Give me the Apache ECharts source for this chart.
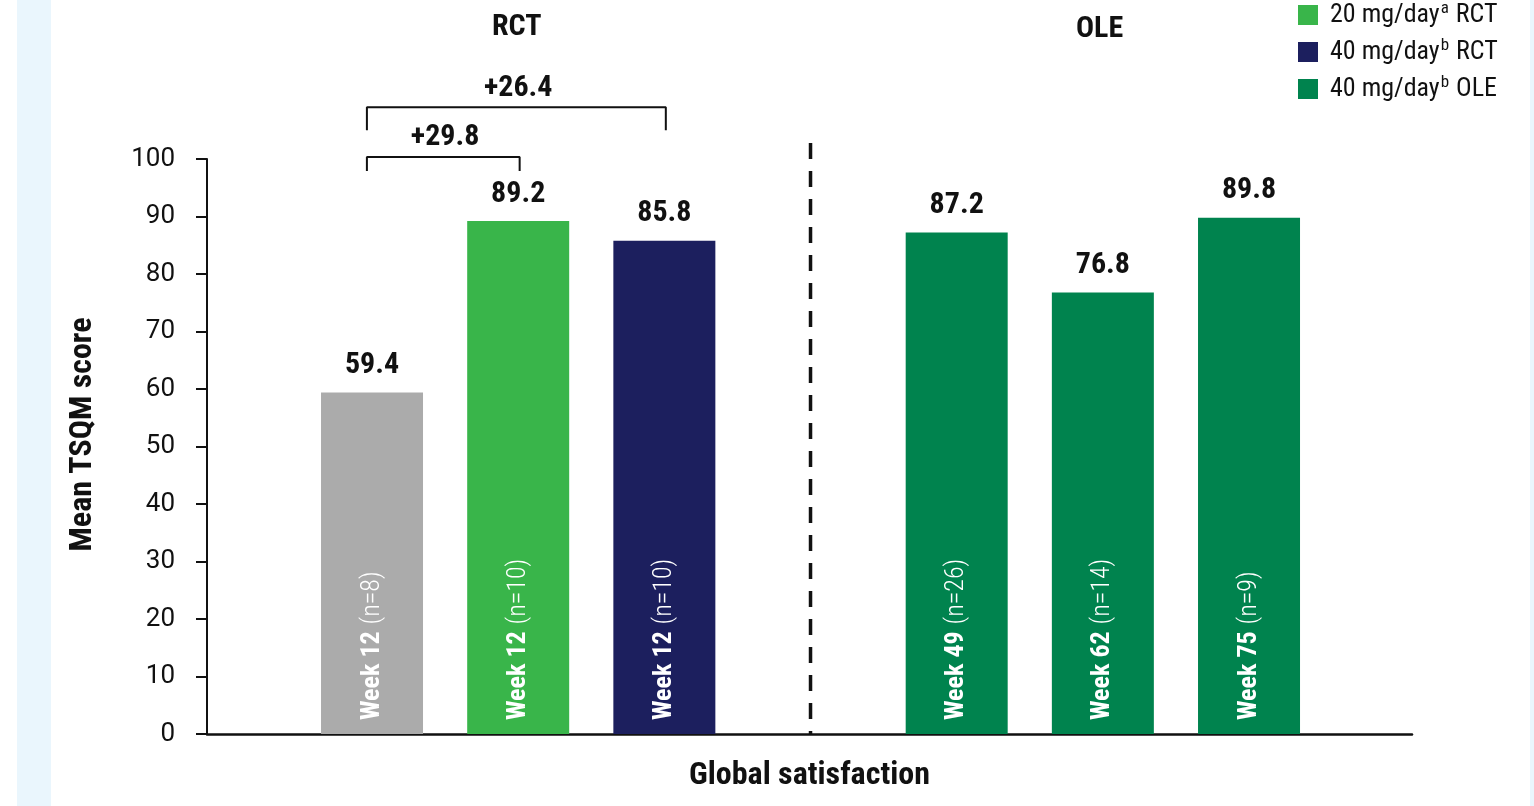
<!DOCTYPE html>
<html>
<head>
<meta charset="utf-8">
<title>Global satisfaction – Mean TSQM score</title>
<script src="https://cdn.jsdelivr.net/npm/echarts@6/dist/echarts.min.js"></script>
<style>
  html, body { margin: 0; padding: 0; background: #ffffff; }
  body { width: 1534px; height: 806px; position: relative; overflow: hidden; }
  .strip { position: absolute; top: 0; height: 806px; background: #eaf6fd; }
  #chart { position: absolute; left: 0; top: 0; width: 1534px; height: 806px; }
</style>
</head>
<body>
<div class="strip" style="left:17px;width:34px"></div>
<div class="strip" style="left:1530px;width:4px"></div>
<div id="chart"></div>
<script>
// Bar slots along the x axis (slot 3 is the RCT / OLE divider)
const slots = [0, 1, 2, 4, 5, 6];
const dividerSlot = 3;
const weeks = ['Week 12', 'Week 12', 'Week 12', 'Week 49', 'Week 62', 'Week 75'];
const nCounts = [8, 10, 10, 26, 14, 9];
const placeboValues = [59.4];
const rct20Values = [89.2];
const rct40Values = [85.8];
const ole40Values = [87.2, 76.8, 89.8];
const yTicks = [0, 10, 20, 30, 40, 50, 60, 70, 80, 90, 100];
const legendNames = ['20 mg/day RCT', '40 mg/day RCT', '40 mg/day OLE'];
const legendSup = { '20 mg/day RCT': 'a', '40 mg/day RCT': 'b', '40 mg/day OLE': 'b' };

const COND = "'Roboto Condensed', 'Liberation Sans Narrow', 'DejaVu Sans Condensed', Roboto, sans-serif";
const REG = "Roboto, 'Noto Sans', sans-serif";

const colors = {
  placebo: '#ababab',
  rct20: '#39b54a',
  rct40: '#1c1f5e',
  ole40: '#00834e'
};

function barData(values, slotOffset) {
  return values.map((v, i) => [slots[slotOffset + i], v, slotOffset + i]);
}

const valueLabel = {
  show: true,
  position: 'top',
  distance: 12,
  formatter: p => p.value[1].toFixed(1),
  fontFamily: COND,
  fontWeight: 'bold',
  fontSize: 30,
  color: '#111111'
};

const insideLabel = {
  show: true,
  position: 'insideBottom',
  distance: 14,
  rotate: 90,
  align: 'left',
  verticalAlign: 'middle',
  formatter: p => '{w|' + weeks[p.value[2]] + '} {n|(n=' + nCounts[p.value[2]] + ')}',
  rich: {
    w: { fontFamily: COND, fontWeight: 'bold', fontSize: 26, color: '#ffffff' },
    n: { fontFamily: COND, fontWeight: 300, fontSize: 26, color: '#ffffff' }
  }
};

function barSeries(name, values, slotOffset, color) {
  return {
    name: name,
    type: 'bar',
    barWidth: 102,
    barGap: '-100%',
    data: barData(values, slotOffset),
    itemStyle: { color: color },
    label: valueLabel,
    emphasis: { disabled: true },
    z: 2
  };
}

// Comparison brackets above the RCT bars
const base = placeboValues[0];
const bracketSpecs = [
  { to: 1, value: rct20Values[0], top: 100.35, foot: 97.9 },
  { to: 2, value: rct40Values[0], top: 109.0, foot: 105.0 }
];
const bracketSeries = [];
bracketSpecs.forEach(b => {
  const x0 = slots[0] - 0.035;
  const x1 = slots[b.to] + 0.01;
  bracketSeries.push({
    type: 'line',
    data: [[x0, b.foot], [x0, b.top], [x1, b.top], [x1, b.foot]],
    symbol: 'none',
    clip: false,
    silent: true,
    lineStyle: { color: '#111111', width: 2 },
    z: 3
  });
  bracketSeries.push({
    type: 'scatter',
    data: [[(slots[0] + slots[b.to]) / 2, b.top]],
    symbolSize: 0,
    itemStyle: { color: '#111111' },
    clip: false,
    silent: true,
    emphasis: { disabled: true },
    label: {
      show: true,
      position: 'top',
      distance: 4,
      formatter: '+' + (b.value - base).toFixed(1),
      fontFamily: COND,
      fontWeight: 'bold',
      fontSize: 30,
      color: '#111111',
      opacity: 1
    },
    z: 5
  });
});

const option = {
  animation: false,
  backgroundColor: 'transparent',
  grid: { left: 207, right: 122, top: 159, bottom: 72 },
  legend: {
    data: legendNames,
    orient: 'vertical',
    left: 1293,
    top: -5,
    itemWidth: 20,
    itemHeight: 20,
    itemGap: 9,
    icon: 'rect',
    selectedMode: false,
    formatter: name => {
      const parts = name.split(' ');
      return '{t|' + parts[0] + ' ' + parts[1] + '}{s|' + legendSup[name] + '}{t| ' + parts[2] + '}';
    },
    textStyle: {
      padding: [0, 0, 0, 7],
      rich: {
        t: { fontFamily: COND, fontSize: 26, color: '#111111', lineHeight: 30 },
        s: { fontFamily: COND, fontSize: 17, color: '#111111', verticalAlign: 'top', lineHeight: 30, padding: [0, 1, 0, 1] }
      }
    }
  },
  graphic: [
    { type: 'text', left: 492, top: 12, style: { text: 'RCT', fontFamily: COND, fontWeight: 'bold', fontSize: 30, fill: '#111111' } },
    { type: 'text', left: 1076, top: 14, style: { text: 'OLE', fontFamily: COND, fontWeight: 'bold', fontSize: 30, fill: '#111111' } }
  ],
  xAxis: {
    type: 'value',
    min: -1.129,
    max: 7.115,
    name: 'Global satisfaction',
    nameLocation: 'middle',
    nameGap: 26,
    nameTextStyle: { fontFamily: COND, fontWeight: 'bold', fontSize: 32, color: '#111111' },
    axisLine: { show: true, onZero: false, lineStyle: { color: '#111111', width: 2.5 } },
    axisTick: { show: false },
    axisLabel: { show: false },
    splitLine: { show: false }
  },
  yAxis: {
    type: 'value',
    min: yTicks[0],
    max: yTicks[yTicks.length - 1],
    interval: yTicks[1] - yTicks[0],
    name: 'Mean TSQM score',
    nameLocation: 'middle',
    nameGap: 108,
    nameTextStyle: { fontFamily: COND, fontWeight: 'bold', fontSize: 32, color: '#111111', padding: [0, 0, 0, 24] },
    axisLine: { show: true, onZero: false, lineStyle: { color: '#111111', width: 2 } },
    axisTick: { show: true, length: 11, lineStyle: { color: '#111111', width: 2 } },
    axisLabel: { margin: 32, fontFamily: REG, fontSize: 26, color: '#111111' },
    splitLine: { show: false }
  },
  series: [
    barSeries('Placebo RCT', placeboValues, 0, colors.placebo),
    barSeries('20 mg/day RCT', rct20Values, 1, colors.rct20),
    barSeries('40 mg/day RCT', rct40Values, 2, colors.rct40),
    barSeries('40 mg/day OLE', ole40Values, 3, colors.ole40),
    {
      type: 'line',
      data: [[dividerSlot, 102.8], [dividerSlot, 0]],
      symbol: 'none',
      clip: false,
      silent: true,
      lineStyle: { color: '#111111', width: 3.5, type: [16, 12] },
      z: 1
    }
  ].concat(bracketSeries)
};

// Per-bar inside labels (week and sample size)
option.series.slice(0, 4).forEach(s => {
  s.data = s.data.map(d => ({ value: d, label: insideLabel }));
});
// Keep value labels on top by adding a second, label-only layer
option.series.slice(0, 4).forEach(s => {
  option.series.push({
    type: 'bar',
    barWidth: 102,
    barGap: '-100%',
    data: s.data.map(d => d.value),
    itemStyle: { color: 'rgba(0,0,0,0)' },
    label: valueLabel,
    silent: true,
    z: 4
  });
});

const chart = echarts.init(document.getElementById('chart'), null, { renderer: 'canvas' });
chart.setOption(option);
</script>
</body>
</html>
